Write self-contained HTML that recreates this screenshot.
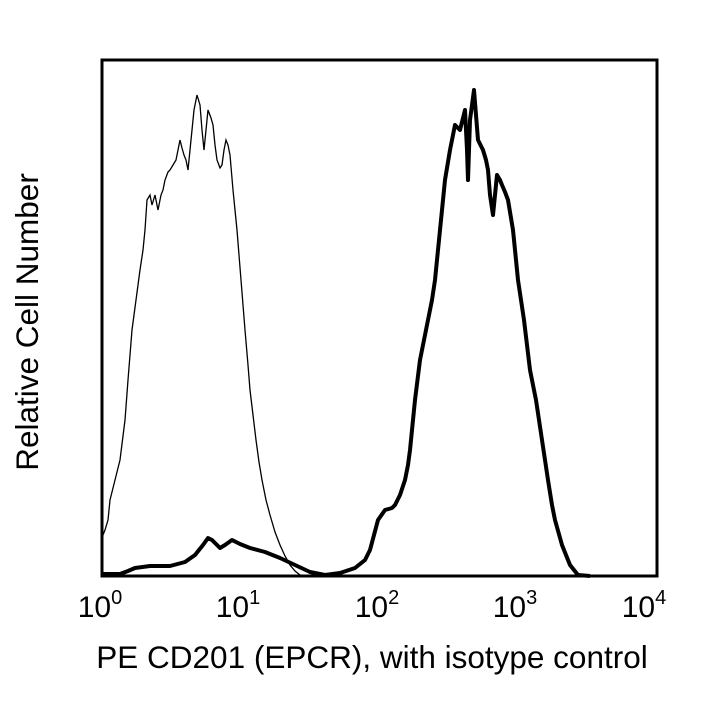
<!DOCTYPE html>
<html><head><meta charset="utf-8"><style>
body{margin:0;background:#fff}
svg{display:block;font-family:"Liberation Sans",sans-serif}
</style></head><body>
<svg width="720" height="720" viewBox="0 0 720 720">
<rect x="102" y="60" width="555" height="516" fill="none" stroke="#000" stroke-width="3"/>
<polyline fill="none" stroke="#000" stroke-width="1.3" points="103,535 105,530 108,520 110,500 115,480 120,460 125,420 128,380 132,330 136,300 140,270 143,250 145,230 147,200 150,195 152,205 155,195 158,210 161,195 163,190 165,180 168,172 170,170 173,165 176,160 178,150 180,140 182,148 184,155 186,160 188,170 190,150 192,130 194,110 197,95 200,105 202,130 204,150 206,130 208,110 211,118 213,125 215,145 217,160 220,168 222,165 224,150 226,140 228,145 230,155 233,190 235,210 237,230 239,255 241,280 243,305 245,330 248,365 250,390 253,415 256,440 259,462 262,480 266,500 270,515 275,532 280,545 285,556 290,565 295,571 300,575"/>
<polyline fill="none" stroke="#000" stroke-width="4" stroke-linejoin="round" points="102,574 120,574 128,571 135,568 150,566 170,566 185,562 195,555 203,545 208,538 212,540 215,543 220,548 225,545 232,540 240,544 250,548 265,552 280,558 295,565 310,572 325,575 340,573 355,568 365,560 370,550 374,535 378,520 385,510 392,508 395,505 400,495 405,480 408,465 410,450 413,420 415,400 420,360 428,320 432,300 435,280 438,250 440,230 443,200 445,180 450,150 455,125 458,128 460,130 463,118 465,110 467,150 468,180 469,150 470,120 472,105 474,90 476,115 478,140 483,150 486,160 488,170 490,195 493,215 495,195 497,175 500,180 502,185 505,192 508,200 513,230 518,280 521,300 524,320 527,345 530,370 536,400 542,440 548,480 552,505 555,520 562,545 570,565 578,575 590,576"/>
<g font-size="30" text-anchor="middle" fill="#000">
<text x="100" y="617">10<tspan font-size="20" dy="-13">0</tspan></text>
<text x="238" y="617">10<tspan font-size="20" dy="-13">1</tspan></text>
<text x="377" y="617">10<tspan font-size="20" dy="-13">2</tspan></text>
<text x="515" y="617">10<tspan font-size="20" dy="-13">3</tspan></text>
<text x="644" y="617">10<tspan font-size="20" dy="-13">4</tspan></text>
</g>
<text x="372" y="668" font-size="31.5" text-anchor="middle">PE CD201 (EPCR), with isotype control</text>
<text transform="translate(38,322) rotate(-90)" font-size="31.5" text-anchor="middle">Relative Cell Number</text>
</svg>
</body></html>
